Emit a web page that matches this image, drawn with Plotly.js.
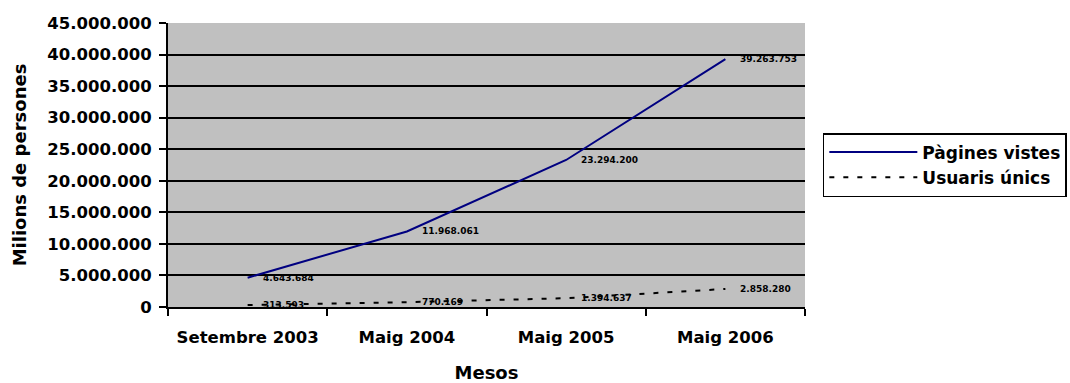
<!DOCTYPE html>
<html>
<head>
<meta charset="utf-8">
<script src="https://cdn.plot.ly/plotly-3.0.1.min.js"></script>
<style>html,body{margin:0;padding:0;background:#fff;}#chart{width:1070px;height:383px;}</style>
</head>
<body>
<div id="chart"></div>
<script>
var categories = ["Setembre 2003", "Maig 2004", "Maig 2005", "Maig 2006"];
var paginesVistes = [4643684, 11968061, 23294200, 39263753];
var usuarisUnics = [313593, 770169, 1394637, 2858280];
var yTickVals = [0, 5000000, 10000000, 15000000, 20000000, 25000000, 30000000, 35000000, 40000000, 45000000];

function fmt(v) { return String(v).replace(/\B(?=(\d{3})+(?!\d))/g, "."); }
var FONT = "DejaVu Sans, Arial, sans-serif";

var traces = [
  { x: categories, y: paginesVistes, type: "scatter", mode: "lines", name: "Pàgines vistes",
    line: { color: "#000080", width: 2 } },
  { x: categories, y: usuarisUnics, type: "scatter", mode: "lines", name: "Usuaris únics",
    line: { color: "#000000", width: 2, dash: "5px,9px" } }
];

var annotations = [];
[paginesVistes, usuarisUnics].forEach(function (series) {
  series.forEach(function (v, i) {
    annotations.push({ x: categories[i], y: v, xref: "x", yref: "y", text: fmt(v),
      showarrow: false, xanchor: "left", yanchor: "middle", xshift: 13,
      font: { family: FONT, size: 9, color: "#000", weight: "bold" } });
  });
});

var layout = {
  width: 1070, height: 383,
  margin: { l: 168, r: 265, t: 23, b: 76, autoexpand: false },
  paper_bgcolor: "#ffffff", plot_bgcolor: "#c0c0c0",
  separators: ",.",
  showlegend: true,
  legend: { xref: "container", yref: "container", x: 0.769, y: 0.6527, xanchor: "left", yanchor: "top", bgcolor: "#ffffff",
    bordercolor: "#000", borderwidth: 1.5, itemwidth: 88, tracegroupgap: 0,
    font: { family: FONT, size: 17, color: "#000", weight: "bold" } },
  xaxis: { type: "category", range: [-0.5, 3.5], tickson: "boundaries", ticks: "outside",
    ticklen: 7, tickwidth: 2, tickcolor: "#000", showline: true, linecolor: "#000", linewidth: 2,
    showgrid: false, zeroline: false, fixedrange: true, ticklabelstandoff: 14,
    tickfont: { family: FONT, size: 16.5, color: "#000", weight: "bold" },
    title: { text: "Mesos", standoff: 26, font: { family: FONT, size: 18, color: "#000", weight: "bold" } } },
  yaxis: { range: [0, 45000000], tickvals: yTickVals, tickformat: ",d", ticks: "outside",
    ticklen: 7, tickwidth: 2, tickcolor: "#000", showline: true, linecolor: "#000", linewidth: 2,
    showgrid: true, gridcolor: "#000", gridwidth: 2, zeroline: false, fixedrange: true, ticklabelstandoff: 4,
    tickfont: { family: FONT, size: 16.5, color: "#000", weight: "bold" },
    title: { text: "Milions de persones", standoff: 16, font: { family: FONT, size: 18, color: "#000", weight: "bold" } } },
  annotations: annotations
};

Plotly.newPlot("chart", traces, layout, { displayModeBar: false, staticPlot: true });
</script>
</body>
</html>
